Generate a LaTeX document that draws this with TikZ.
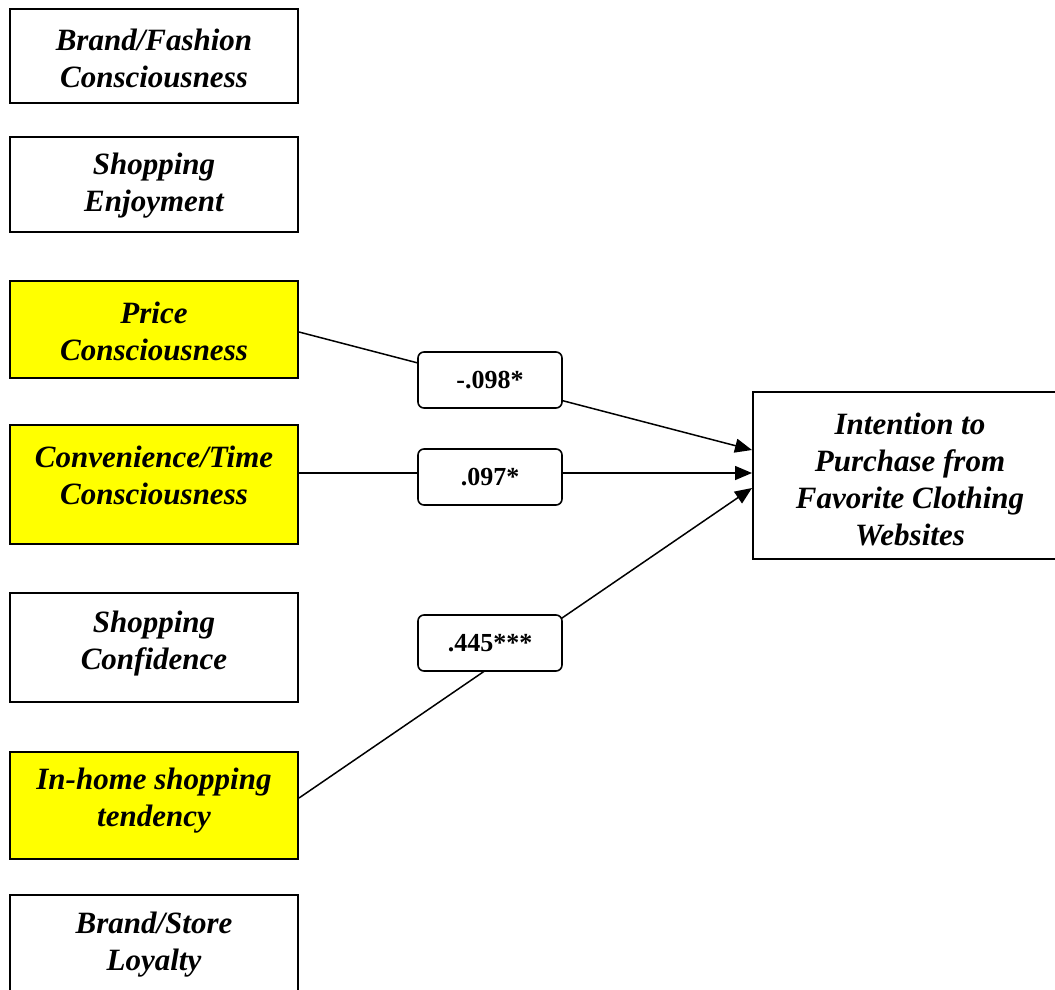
\documentclass[tikz,border=0pt]{standalone}
\usepackage{fontspec}
\setmainfont{Liberation Serif}
\usetikzlibrary{arrows.meta,backgrounds}
\definecolor{hilite}{RGB}{255,255,0}
\begin{document}
\begin{tikzpicture}[x=1pt,y=-1pt,
  factor/.style={draw, line width=2pt, minimum width=288pt, inner sep=0pt},
  hl/.style={fill=hilite},
  ftext/.style={font=\fontsize{31}{37}\selectfont\bfseries\itshape, align=center, inner sep=0pt},
  coef/.style={draw, line width=1.6pt, rounded corners=6pt, fill=white,
    minimum width=144pt, minimum height=56pt, inner sep=0pt,
    font=\fontsize{26}{30}\selectfont\bfseries},
  link/.style={line width=1.5pt, -{Triangle[length=17pt,width=14pt]}}]
\useasboundingbox (0,0) rectangle (1055,989);

% predictor boxes
\node[factor, minimum height=94pt] (b1) at (154,56) {};
\node[ftext] (t1) at (154,58) {Brand/Fashion\\Consciousness};
\node[factor, minimum height=95pt] (b2) at (154,184.5) {};
\node[ftext] (t2) at (154,186) {Shopping\\Enjoyment};
\node[factor, hl, minimum height=97pt] (b3) at (154,329.5) {};
\node[ftext] (t3) at (154,331) {Price\\Consciousness};
\node[factor, hl, minimum height=119pt] (b4) at (154,484.5) {};
\node[ftext] (t4) at (154,475) {Convenience/Time\\Consciousness};
\node[factor, minimum height=109pt] (b5) at (154,647.5) {};
\node[ftext] (t5) at (154,644) {Shopping\\Confidence};
\node[factor, hl, minimum height=107pt] (b6) at (154,805.5) {};
\node[ftext] (t6) at (154,801) {In-home shopping\\tendency};
\node[factor, minimum height=105pt] (b7) at (154,947.5) {};
\node[ftext] (t7) at (154,945) {Brand/Store\\Loyalty};

% outcome box
\node[factor, minimum width=314pt, minimum height=167pt] (r) at (910,475.5) {};
\node[ftext] (tr) at (910,479) {Intention to\\Purchase from\\Favorite Clothing\\Websites};

% paths
\begin{pgfonlayer}{background}
\draw[link] ([yshift=-2.5pt]b3.east) -- ([yshift=25.5pt]r.west);
\draw[link] ([yshift=11.5pt]b4.east) -- ([yshift=2.5pt]r.west);
\draw[link] ([yshift=7.5pt]b6.east) -- ([yshift=-12.5pt]r.west);
\end{pgfonlayer}

% path coefficients
\node[coef] (c1) at (490,380) {-.098*};
\node[coef] (c2) at (490,477) {.097*};
\node[coef] (c3) at (490,643) {.445***};
\end{tikzpicture}
\end{document}
